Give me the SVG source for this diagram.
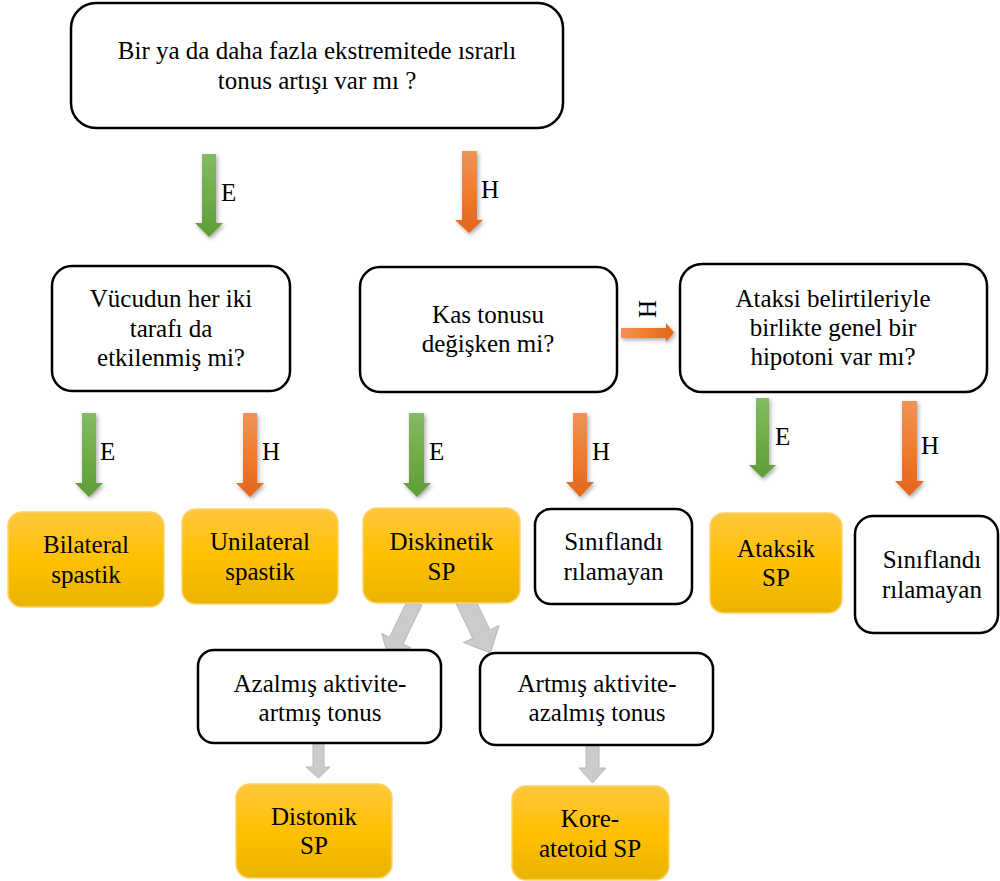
<svg xmlns="http://www.w3.org/2000/svg" width="1000" height="881" viewBox="0 0 1000 881">
<style>
  text { font-family: "Liberation Serif", "Times New Roman", serif; font-size: 25px; fill: #000; }
  .c { text-anchor: middle; }
  .q { fill: #fff; stroke: #000; stroke-width: 2.5; }
  .o { fill: url(#gOrangeBox); stroke: #fcd36b; stroke-width: 1.5; }
  .ga { fill: url(#gGreen); filter: url(#sh); }
  .oa { fill: url(#gOrange); filter: url(#sh); }
  .gr { fill: #cbcbcb; stroke: #b8b8b8; stroke-width: 1; }
</style>
<defs>
  <linearGradient id="gGreen" x1="0" y1="0" x2="0" y2="1">
    <stop offset="0" stop-color="#82bb64"/>
    <stop offset="0.5" stop-color="#70ad47"/>
    <stop offset="1" stop-color="#5e9d36"/>
  </linearGradient>
  <linearGradient id="gOrange" x1="0" y1="0" x2="0" y2="1">
    <stop offset="0" stop-color="#f0935a"/>
    <stop offset="0.5" stop-color="#ef7c2c"/>
    <stop offset="1" stop-color="#e3661c"/>
  </linearGradient>
  <linearGradient id="gOrangeH" x1="0" y1="0" x2="1" y2="0">
    <stop offset="0" stop-color="#f0935a"/>
    <stop offset="0.5" stop-color="#ef7c2c"/>
    <stop offset="1" stop-color="#e3661c"/>
  </linearGradient>
  <linearGradient id="gOrangeBox" x1="0" y1="0" x2="0" y2="1">
    <stop offset="0" stop-color="#ffc83d"/>
    <stop offset="0.5" stop-color="#ffc000"/>
    <stop offset="1" stop-color="#e9b300"/>
  </linearGradient>
  <filter id="sh" x="-50%" y="-20%" width="200%" height="150%">
    <feDropShadow dx="1.5" dy="2" stdDeviation="2" flood-color="#000" flood-opacity="0.35"/>
  </filter>
</defs>

<g id="connectors">
  <polygon class="ga" points="202,154 216,154 216,223 223,223 209,237 195,223 202,223"/>
  <text x="221" y="201">E</text>
  <polygon class="oa" points="462,151 477,151 477,220 483,220 469,233 455,220 462,220"/>
  <text x="481" y="198">H</text>

  <polygon class="ga" points="82,413 96,413 96,483 103,483 89,497 75,483 82,483"/>
  <text x="100" y="460">E</text>
  <polygon class="oa" points="243,413 257,413 257,483 264,483 250,497 236,483 243,483"/>
  <text x="262" y="460">H</text>
  <polygon class="ga" points="409,413 424,413 424,483 431,483 417,497 403,483 409,483"/>
  <text x="429" y="460">E</text>
  <polygon class="oa" points="573,413 587,413 587,482 594,482 580,497 566,482 573,482"/>
  <text x="592" y="460">H</text>

  <polygon points="621,328 666,328 666,323 674,332.5 666,342 666,338 621,338" fill="url(#gOrangeH)" filter="url(#sh)"/>
  <text x="647" y="309" class="c" dominant-baseline="central" transform="rotate(-90 647 309)">H</text>

  <polygon class="ga" points="756,398 769,398 769,465 776,465 762.5,478 749,465 756,465"/>
  <text x="775" y="445">E</text>
  <polygon class="oa" points="902,401 917,401 917,481 924,481 909.5,496 895,481 902,481"/>
  <text x="921" y="454">H</text>

  <polygon class="gr" transform="translate(415,602) rotate(25.9)" points="-7.5,0 7.5,0 7.5,43 16,43 0,61 -16,43 -7.5,43"/>
  <polygon class="gr" transform="translate(464,598) rotate(-25.7)" points="-9.5,0 9.5,0 9.5,40 19.5,40 0,61 -19.5,40 -9.5,40"/>

  <polygon class="gr" points="313,730 324,730 324,767 330,767 318.5,778 306,767 313,767"/>
  <polygon class="gr" points="586,732 599,732 599,768 606,768 592.5,783 579,768 586,768"/>
</g>

<g id="n-top">
  <rect class="q" x="71" y="3" width="492" height="125" rx="25"/>
  <text class="c" x="317" y="59">Bir ya da daha fazla ekstremitede ısrarlı</text>
  <text class="c" x="317" y="89">tonus artışı var mı ?</text>
</g>
<g id="n-vucut">
  <rect class="q" x="52" y="266" width="238" height="125" rx="20"/>
  <text class="c" x="171" y="307">Vücudun her iki</text>
  <text class="c" x="171" y="337">tarafı da</text>
  <text class="c" x="171" y="366">etkilenmiş mi?</text>
</g>
<g id="n-kas">
  <rect class="q" x="360" y="267" width="257" height="125" rx="20"/>
  <text class="c" x="488" y="323">Kas tonusu</text>
  <text class="c" x="488" y="352">değişken mi?</text>
</g>
<g id="n-ataksi">
  <rect class="q" x="680" y="264" width="307" height="128" rx="22"/>
  <text class="c" x="833" y="307">Ataksi belirtileriyle</text>
  <text class="c" x="833" y="336">birlikte genel bir</text>
  <text class="c" x="833" y="365">hipotoni var mı?</text>
</g>
<g id="n-bilateral">
  <rect class="o" x="8" y="512" width="156" height="95" rx="14"/>
  <text class="c" x="86" y="553">Bilateral</text>
  <text class="c" x="86" y="583">spastik</text>
</g>
<g id="n-unilateral">
  <rect class="o" x="182" y="509" width="156" height="95" rx="14"/>
  <text class="c" x="260" y="550">Unilateral</text>
  <text class="c" x="260" y="580">spastik</text>
</g>
<g id="n-diskinetik">
  <rect class="o" x="363" y="508" width="157" height="95" rx="14"/>
  <text class="c" x="441.5" y="550">Diskinetik</text>
  <text class="c" x="441.5" y="580">SP</text>
</g>
<g id="n-sinif1">
  <rect class="q" x="535" y="509" width="157" height="95" rx="16"/>
  <text class="c" x="613.5" y="550">Sınıflandı</text>
  <text class="c" x="613.5" y="580">rılamayan</text>
</g>
<g id="n-ataksik">
  <rect class="o" x="710" y="513" width="132" height="100" rx="14"/>
  <text class="c" x="776" y="557">Ataksik</text>
  <text class="c" x="776" y="586">SP</text>
</g>
<g id="n-sinif2">
  <rect class="q" x="855" y="516" width="143" height="117" rx="18"/>
  <text class="c" x="932" y="568">Sınıflandı</text>
  <text class="c" x="932" y="598">rılamayan</text>
</g>
<g id="n-azalmis">
  <rect class="q" x="198" y="650" width="243" height="93" rx="16"/>
  <text class="c" x="320" y="692">Azalmış aktivite-</text>
  <text class="c" x="320" y="721">artmış tonus</text>
</g>
<g id="n-artmis">
  <rect class="q" x="480" y="653" width="233" height="92" rx="16"/>
  <text class="c" x="597" y="692">Artmış aktivite-</text>
  <text class="c" x="597" y="721">azalmış tonus</text>
</g>
<g id="n-distonik">
  <rect class="o" x="236" y="784" width="156" height="94" rx="14"/>
  <text class="c" x="314" y="825">Distonik</text>
  <text class="c" x="314" y="854">SP</text>
</g>
<g id="n-kore">
  <rect class="o" x="512" y="786" width="157" height="94" rx="14"/>
  <text class="c" x="590" y="827">Kore-</text>
  <text class="c" x="590" y="857">atetoid SP</text>
</g>
</svg>
